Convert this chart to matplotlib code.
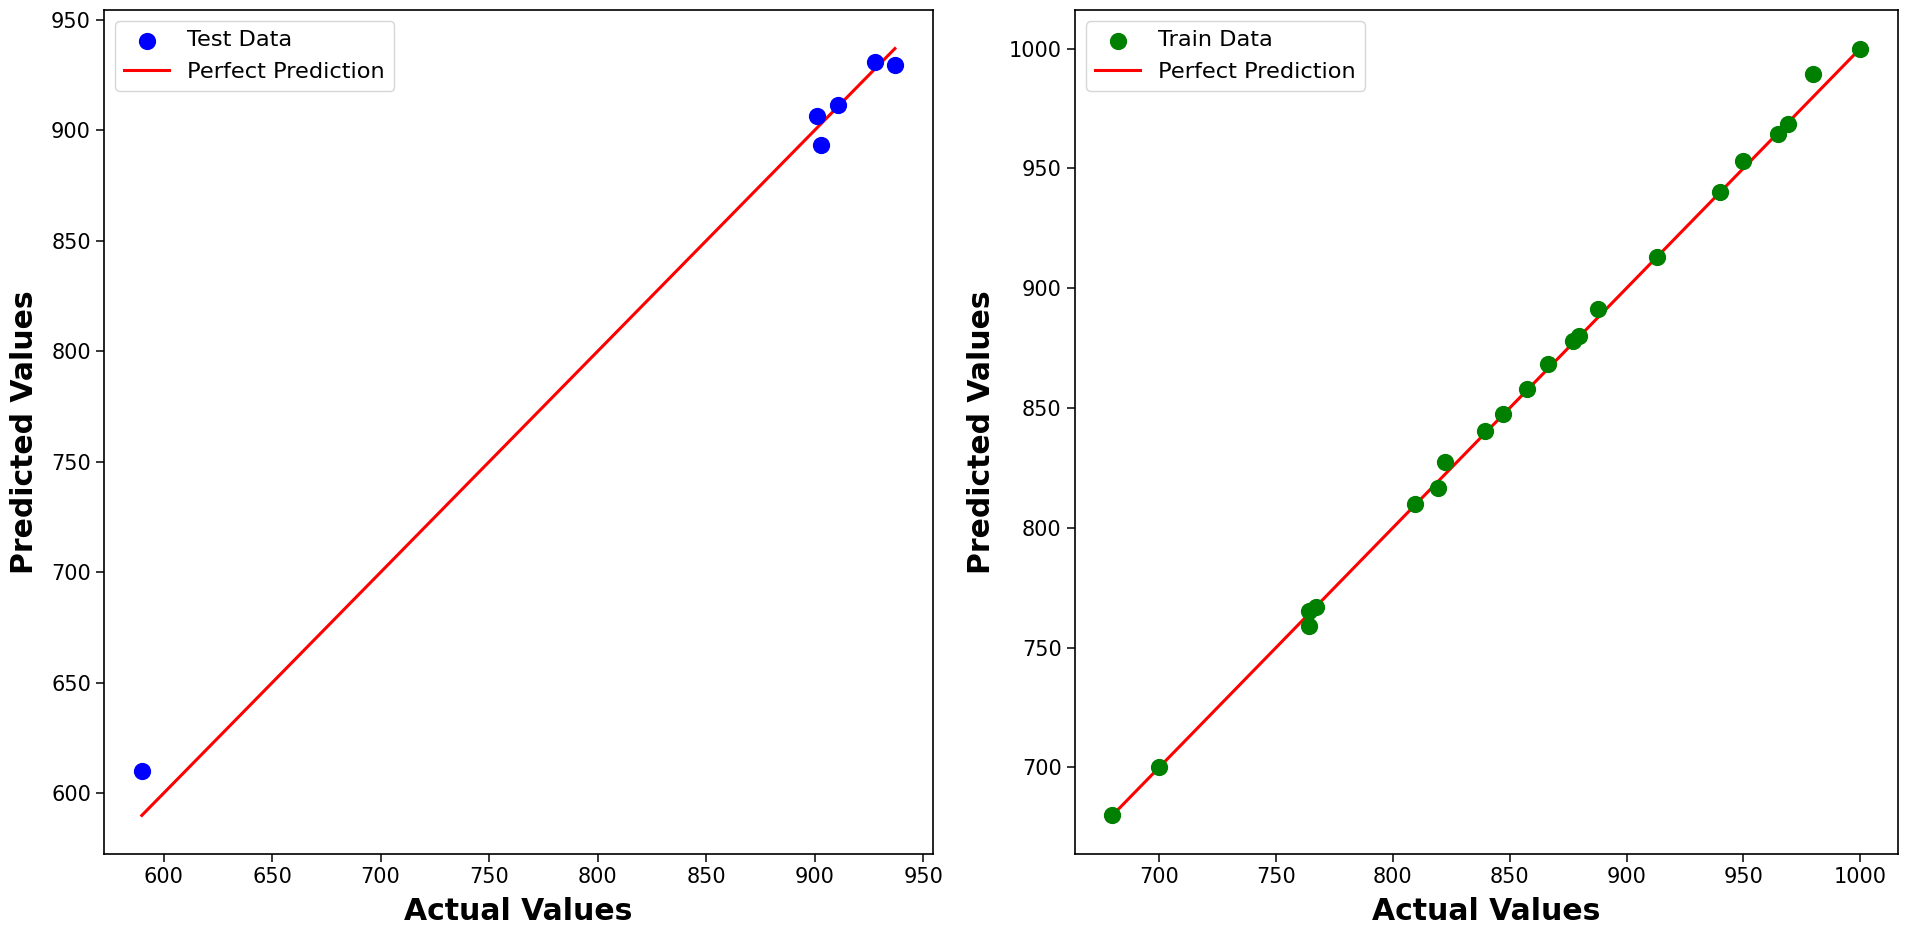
import matplotlib
matplotlib.use("Agg")
import matplotlib.pyplot as plt

# Test data
test_actual = [590, 901, 903, 911, 928, 937]
test_pred = [610, 906.5, 893.5, 911.5, 931, 929.5]

# Train data
train_actual = [680, 700, 764, 764, 767, 809.5, 819.5, 822.5, 839.5, 847, 857.5, 866.5,
                877, 879.5, 888, 913, 940, 950, 965, 969, 980, 1000]
train_pred = [680, 700, 765.5, 759, 767, 810, 816.5, 827.5, 840.5, 847.5, 858, 868.5,
              878, 880, 891.5, 913, 940, 953, 964.5, 968.5, 989.5, 1000]

fig = plt.figure(figsize=(19.11, 9.26), dpi=100)
ax1 = fig.add_axes([0.0545, 0.078, 0.4335, 0.911])
ax2 = fig.add_axes([0.5625, 0.078, 0.4305, 0.911])

TICK_FS = 15
LEGEND_FS = 16.2
LABEL_FS = 21.5

def draw(ax, xa, ya, color, label):
    ax.scatter(xa, ya, color=color, s=130, label=label, zorder=3)
    lo, hi = min(xa), max(xa)
    ax.plot([lo, hi], [lo, hi], color='red', lw=2.2, label='Perfect Prediction')
    ax.set_xlabel('Actual Values', fontsize=LABEL_FS, fontweight='bold', labelpad=7)
    ax.set_ylabel('Predicted Values', fontsize=LABEL_FS, fontweight='bold', labelpad=9)
    ax.tick_params(labelsize=TICK_FS, length=6, width=1.1)
    ax.legend(loc='upper left', fontsize=LEGEND_FS)
    for s in ax.spines.values():
        s.set_linewidth(1.2)

draw(ax1, test_actual, test_pred, 'blue', 'Test Data')
draw(ax2, train_actual, train_pred, 'green', 'Train Data')

fig.savefig('out.png', dpi=100)
